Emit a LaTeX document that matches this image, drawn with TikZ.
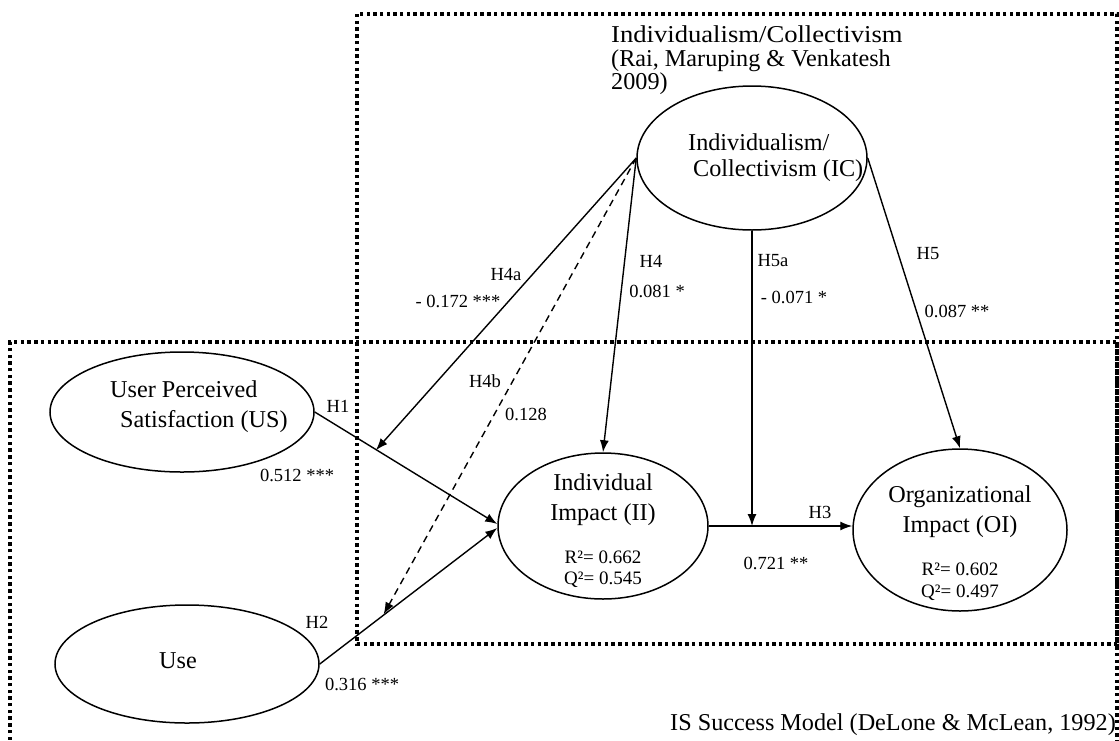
\documentclass[tikz,border=0pt]{standalone}
\usepackage{fontspec}
\setmainfont{Liberation Serif}
\usetikzlibrary{shapes.geometric,arrows.meta,calc}
\begin{document}
\begin{tikzpicture}[x=1pt,y=-1pt,
  construct/.style={draw,ellipse,line width=1.5pt,inner sep=0pt},
  big/.style={font=\fontsize{24.2}{27}\selectfont,inner sep=0pt},
  small/.style={font=\fontsize{18.5}{21}\selectfont,inner sep=0pt},
  stat/.style={font=\fontsize{19}{21}\selectfont,inner sep=0pt},
  link/.style={line width=1.4pt,-{Latex[length=12pt,width=9pt]}},
  dashlink/.style={link,dash pattern=on 7pt off 5pt},
  boxline/.style={line width=3.4pt,dash pattern=on 3.4pt off 3.3pt},
]
\useasboundingbox (0,0) rectangle (1119,740);

% dotted boxes
\draw[boxline] (357,14) rectangle (1117,644);
\draw[boxline] (10,760) -- (10,342) -- (1117,342) -- (1117,760);

% constructs
\node[construct,minimum width=230pt,minimum height=144pt] (IC) at (752,158) {};
\node[construct,minimum width=264pt,minimum height=120pt] (US) at (182,412) {};
\node[construct,minimum width=264pt,minimum height=118pt] (Use) at (187,664) {};
\node[construct,minimum width=210pt,minimum height=146pt] (II) at (603,526) {};
\node[construct,minimum width=214pt,minimum height=162pt] (OI) at (960,530) {};

% construct texts
\node[big,anchor=base west] (ict1) at (688,150) {Individualism/};
\node[big,anchor=base west] (ict2) at (693,176) {Collectivism (IC)};
\node[big,anchor=base west] (ust1) at (110,397) {User Perceived};
\node[big,anchor=base west] (ust2) at (120,427) {Satisfaction (US)};
\node[big,anchor=base] (uset) at (178,668) {Use};
\node[big,anchor=base] (iit1) at (603,490) {Individual};
\node[big,anchor=base] (iit2) at (603,520) {Impact (II)};
\node[stat,anchor=base] (iis1) at (603,563) {R²= 0.662};
\node[stat,anchor=base] (iis2) at (603,584) {Q²= 0.545};
\node[big,anchor=base] (oit1) at (960,502) {Organizational};
\node[big,anchor=base] (oit2) at (960,532) {Impact (OI)};
\node[stat,anchor=base] (ois1) at (960,575) {R²= 0.602};
\node[stat,anchor=base] (ois2) at (960,597) {Q²= 0.497};

% box titles
\node[big,anchor=base west] (tt1) at (611,42) {\scalebox{1.1}[1]{Individualism/Collectivism}};
\node[big,anchor=base west] (tt2) at (611,66) {(Rai, Maruping \& Venkatesh};
\node[big,anchor=base west] (tt3) at (611,89) {2009)};
\node[big,anchor=base east] (is) at (1116,730) {IS Success Model (DeLone \& McLean, 1992)};

% connectors
\coordinate (m1) at ($(US.east)!0.335!(II.west)$);
\coordinate (m2) at ($(Use.east)!0.36!(II.west)$);
\coordinate (m3) at (IC.south |- II.east);
\draw[link] (US.east) -- ($(II.west)+(0,-2)$);
\draw[link] (Use.east) -- ($(II.west)+(0,2)$);
\draw[link] (II.east) -- (II.east -| OI.west);
\draw[link] (IC.west) -- (m1);
\draw[dashlink] (IC.west) -- (m2);
\draw[link] (IC.west) -- (II.north);
\draw[link] (IC.south) -- (m3);
\draw[link] (IC.east) -- (OI.north);

% path labels
\node[small] (lh1) at (338,406) {H1};
\node[small] (lc1) at (297,475) {0.512 ***};
\node[small] (lh2) at (317,622) {H2};
\node[small] (lc2) at (362,684) {0.316 ***};
\node[small] (lh4a) at (506,274) {H4a};
\node[small] (lc4a) at (458,301) {- 0.172 ***};
\node[small] (lh4) at (651,261) {H4};
\node[small] (lc4) at (657,291) {0.081 *};
\node[small] (lh5a) at (773,261) {H5a};
\node[small] (lc5a) at (794,297) {- 0.071 *};
\node[small] (lh5) at (928,254) {H5};
\node[small] (lc5) at (957,311) {0.087 **};
\node[small] (lh4b) at (485,381) {H4b};
\node[small] (lc4b) at (526,414) {0.128};
\node[small] (lh3) at (820,512) {H3};
\node[small] (lc3) at (776,563) {0.721 **};
\end{tikzpicture}
\end{document}
